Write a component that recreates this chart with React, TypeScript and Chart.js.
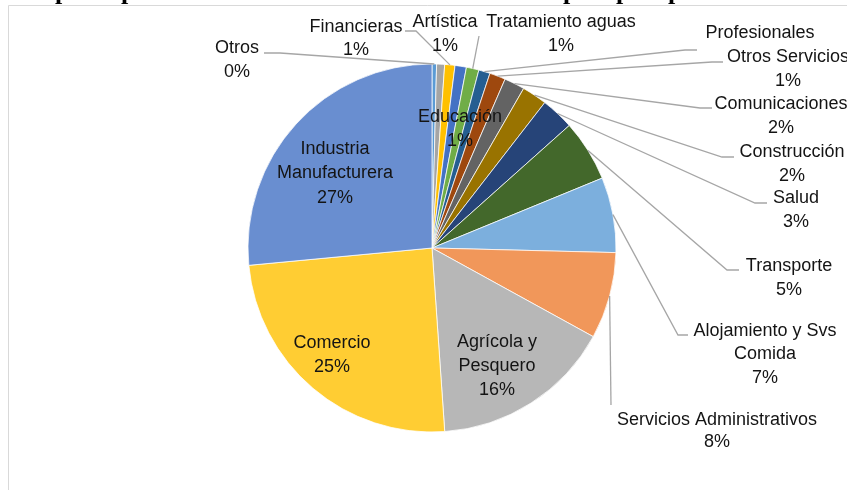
import React, { useEffect, useRef } from "react";
import { Chart, registerables } from "chart.js";

Chart.register(...registerables);

// ---- data (clockwise from 12 o'clock) ----
const categories = [
  "Otros",
  "Educación",
  "Financieras",
  "Artística",
  "Tratamiento aguas",
  "Profesionales",
  "Otros Servicios",
  "Comunicaciones",
  "Construcción",
  "Salud",
  "Transporte",
  "Alojamiento y Svs Comida",
  "Servicios Administrativos",
  "Agrícola y Pesquero",
  "Comercio",
  "Industria Manufacturera",
];
const shares = [0.4, 0.7, 0.9, 1.0, 1.1, 1.0, 1.4, 1.8, 2.2, 2.9, 5.4, 6.6, 7.6, 15.9, 24.6, 26.5];
const labelLines = [
  ["Otros"],
  ["Educación"],
  ["Financieras"],
  ["Artística"],
  ["Tratamiento aguas"],
  ["Profesionales"],
  ["Otros Servicios"],
  ["Comunicaciones"],
  ["Construcción"],
  ["Salud"],
  ["Transporte"],
  ["Alojamiento y Svs", "Comida"],
  ["Servicios Administrativos"],
  ["Agrícola y", "Pesquero"],
  ["Comercio"],
  ["Industria", "Manufacturera"],
];
const showPercent = [true, true, true, true, true, false, true, true, true, true, true, true, true, true, true, true];

// ---- styles / layout ----
const colors = [
  "#5B9BD5", "#A5A5A5", "#FFC000", "#4472C4", "#70AD47", "#255E91", "#9E480E", "#636363",
  "#997300", "#264478", "#43682B", "#7CAFDD", "#F1975A", "#B7B7B7", "#FFCD33", "#698ED0",
];
type LabelPos = { x: number; y: number; lh: number; anchor?: [number, number]; elbow?: [number, number] };
const labelLayout: LabelPos[] = [
  { x: 237, y: 48, lh: 24, anchor: [264, 53], elbow: [280, 53] },
  { x: 460, y: 117, lh: 24 },
  { x: 356, y: 27, lh: 23, anchor: [405, 31], elbow: [416, 31] },
  { x: 445, y: 22, lh: 24 },
  { x: 561, y: 22, lh: 24, anchor: [479, 36] },
  { x: 760, y: 33, lh: 24, anchor: [697, 50], elbow: [685, 50] },
  { x: 788, y: 57, lh: 24, anchor: [723, 62], elbow: [712, 62] },
  { x: 781, y: 104, lh: 24, anchor: [712, 108], elbow: [700, 108] },
  { x: 792, y: 152, lh: 24, anchor: [734, 157], elbow: [722, 157] },
  { x: 796, y: 198, lh: 24, anchor: [767, 203], elbow: [755, 203] },
  { x: 789, y: 266, lh: 24, anchor: [739, 270], elbow: [727, 270] },
  { x: 765, y: 331, lh: 23.5, anchor: [688, 335], elbow: [678, 335] },
  { x: 717, y: 420, lh: 22, anchor: [611, 405] },
  { x: 497, y: 342, lh: 24 },
  { x: 332, y: 343, lh: 24 },
  { x: 335, y: 149, lh: 24.5 },
];
const titleStems = [60, 126, 568, 621, 673];

const labelPlugin = {
  id: "excelLabels",
  beforeDraw(chart: any) {
    const ctx = chart.ctx;
    ctx.save();
    ctx.fillStyle = "#ffffff";
    ctx.fillRect(0, 0, chart.width, chart.height);
    // frame of the chart object
    ctx.strokeStyle = "#D9D9D9";
    ctx.lineWidth = 1;
    ctx.beginPath();
    ctx.moveTo(8.5, chart.height);
    ctx.lineTo(8.5, 5.5);
    ctx.lineTo(chart.width, 5.5);
    ctx.stroke();
    // cut-off title above the chart
    ctx.fillStyle = "#000";
    ctx.font = 'bold 26px "Liberation Serif"';
    ctx.textAlign = "left";
    ctx.textBaseline = "alphabetic";
    titleStems.forEach((sx) => ctx.fillText("p", sx - 5, -1));
    ctx.restore();
  },
  afterDatasetsDraw(chart: any) {
    const ctx = chart.ctx;
    const meta = chart.getDatasetMeta(0);
    const total = shares.reduce((a, b) => a + b, 0);
    ctx.save();
    ctx.strokeStyle = "#A6A6A6";
    ctx.lineWidth = 1.3;
    meta.data.forEach((arc: any, i: number) => {
      const L = labelLayout[i];
      if (!L.anchor) return;
      const p = arc.getProps(["x", "y", "startAngle", "endAngle", "outerRadius"], true);
      const mid = (p.startAngle + p.endAngle) / 2;
      const ex = p.x + Math.cos(mid) * p.outerRadius;
      const ey = p.y + Math.sin(mid) * p.outerRadius;
      ctx.beginPath();
      ctx.moveTo(L.anchor[0], L.anchor[1]);
      if (L.elbow) ctx.lineTo(L.elbow[0], L.elbow[1]);
      ctx.lineTo(ex, ey);
      ctx.stroke();
    });
    ctx.font = '18px "Liberation Sans"';
    ctx.fillStyle = "#141414";
    ctx.textAlign = "center";
    ctx.textBaseline = "middle";
    labelLines.forEach((lines, i) => {
      const L = labelLayout[i];
      const all = showPercent[i] ? [...lines, Math.round((shares[i] / total) * 100) + "%"] : lines;
      all.forEach((t, k) => ctx.fillText(t, L.x, L.y + k * L.lh));
    });
    ctx.restore();
  },
};

export default function App() {
  const ref = useRef<HTMLCanvasElement | null>(null);
  useEffect(() => {
    if (!ref.current) return;
    const chart = new Chart(ref.current, {
      type: "pie",
      data: {
        labels: categories,
        datasets: [
          {
            data: shares,
            backgroundColor: colors,
            borderColor: "#ffffff",
            borderWidth: 0.75,
            hoverOffset: 0,
          } as any,
        ],
      },
      options: {
        animation: false,
        responsive: false,
        events: [],
        radius: 184,
        layout: { padding: { left: 60, right: 43, top: 40, bottom: 34 } },
        plugins: {
          legend: { display: false },
          tooltip: { enabled: false },
          title: { display: false },
        },
      } as any,
      plugins: [labelPlugin],
    });
    return () => chart.destroy();
  }, []);
  return (
    <div style={{ position: "absolute", left: 0, top: 0, width: 847, height: 490, overflow: "hidden", background: "#fff" }}>
      <canvas ref={ref} width={847} height={490} style={{ width: 847, height: 490, display: "block" }} />
    </div>
  );
}
